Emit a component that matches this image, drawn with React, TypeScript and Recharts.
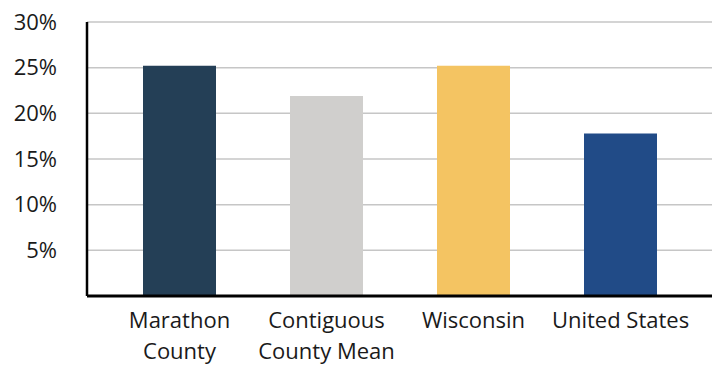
import { BarChart, Bar, XAxis, YAxis, CartesianGrid, Cell } from "recharts"

const categories = ["Marathon County", "Contiguous County Mean", "Wisconsin", "United States"]
const tickLines = [["Marathon", "County"], ["Contiguous", "County Mean"], ["Wisconsin"], ["United States"]]
const values = [25.2, 21.9, 25.2, 17.8]
const colors = ["#243f56", "#d0cfcd", "#f4c462", "#214b87"]
const yTicks = [0, 5, 10, 15, 20, 25, 30]

const data = categories.map((name, i) => ({ name, value: values[i] }))

const FONT = "'Open Sans', sans-serif"

function CategoryTick(props: any) {
  const { x, y, payload } = props
  const idx = categories.indexOf(payload.value)
  const lines = tickLines[idx] ?? [payload.value]
  return (
    <g transform={`translate(${x},${y})`}>
      {lines.map((line, i) => (
        <text key={i} x={0} y={32 + i * 31} textAnchor="middle" fill="#1a1a1a" fontSize={22} fontFamily={FONT}>
          {line}
        </text>
      ))}
    </g>
  )
}

export default function App() {
  return (
    <div style={{ position: "absolute", left: 0, top: 0, width: 716, height: 366, background: "#fff" }}>
      <BarChart width={716} height={366} data={data} margin={{ top: 22, right: 4, bottom: 0, left: 0 }}>
        <CartesianGrid vertical={false} stroke="#c6c6c6" strokeWidth={1.5} />
        <XAxis
          dataKey="name"
          height={70}
          padding={{ left: 19, right: 18 }}
          tickLine={false}
          tickSize={0}
          tickMargin={0}
          axisLine={{ stroke: "#000", strokeWidth: 3 }}
          tick={<CategoryTick />}
          interval={0}
        />
        <YAxis
          width={87}
          domain={[0, 30]}
          ticks={yTicks}
          tickFormatter={(v: number) => (v === 0 ? "" : `${v}%`)}
          tickLine={false}
          tickSize={0}
          tickMargin={30}
          axisLine={{ stroke: "#000", strokeWidth: 2.5 }}
          tick={{ fill: "#1a1a1a", fontSize: 22, fontFamily: FONT }}
        />
        <Bar dataKey="value" barSize={73} isAnimationActive={false}>
          {data.map((d, i) => (
            <Cell key={d.name} fill={colors[i]} />
          ))}
        </Bar>
      </BarChart>
    </div>
  )
}
